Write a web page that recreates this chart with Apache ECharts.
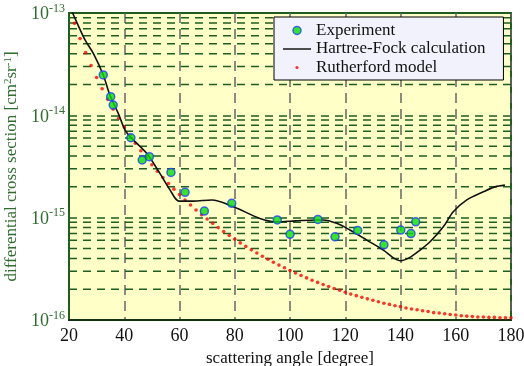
<!DOCTYPE html>
<html>
<head>
<meta charset="utf-8">
<script src="https://cdn.jsdelivr.net/npm/echarts@6/dist/echarts.min.js"></script>
<style>
html,body{margin:0;padding:0;background:#fff;}
#c{width:524px;height:366px;}
</style>
</head>
<body>
<div id="c"></div>
<script>
// ---- data ----
var expAngle = [32.4, 35.1, 36.0, 42.4, 46.5, 49.1, 56.9, 62.0, 69.0, 78.9, 95.4, 100.0, 110.1, 116.3, 124.5, 134.0, 140.1, 143.8, 145.5];
var expValue = [2.48e-14, 1.52e-14, 1.26e-14, 6.04e-15, 3.66e-15, 3.94e-15, 2.77e-15, 1.77e-15, 1.16e-15, 1.38e-15, 9.5e-16, 6.87e-16, 9.6e-16, 6.5e-16, 7.5e-16, 5.43e-16, 7.57e-16, 7.0e-16, 9.1e-16];

var hfAngle = [20.0, 21.3, 25.8, 28.8, 32.4, 34.8, 37.8, 40.3, 42.7, 48.1, 52.9, 56.6, 59.8, 65.0, 71.7, 79.5, 89.1, 95.2, 102.0, 109.7, 112.1, 116.9, 121.7, 127.8, 133.8, 137.4, 140.1, 143.4, 147.1, 150.7, 155.5, 159.1, 164.0, 170.0, 174.2, 177.8];
var hfValue = [1.2e-13, 1.0e-13, 5.45e-14, 4.03e-14, 2.48e-14, 1.58e-14, 1.05e-14, 7.18e-15, 5.96e-15, 4.25e-15, 2.71e-15, 1.86e-15, 1.45e-15, 1.45e-15, 1.49e-15, 1.28e-15, 9.84e-16, 9.1e-16, 9.3e-16, 9.5e-16, 9.5e-16, 8.8e-16, 7.57e-16, 6.04e-16, 4.82e-16, 4.05e-16, 3.79e-16, 4.09e-16, 4.82e-16, 5.81e-16, 8.15e-16, 1.14e-15, 1.49e-15, 1.79e-15, 2.0e-15, 2.08e-15];

var rutAngle = [22, 24, 26, 28, 30, 32, 34, 36, 38, 40, 42, 44, 46, 48, 50, 52, 54, 56, 58, 60, 62, 64, 66, 68, 70, 72, 74, 76, 78, 80, 82, 84, 86, 88, 90, 92, 94, 96, 98, 100, 102, 104, 106, 108, 110, 112, 114, 116, 118, 120, 122, 124, 126, 128, 130, 132, 134, 136, 138, 140, 142, 144, 146, 148, 150, 152, 154, 156, 158, 160, 162, 164, 166, 168, 170, 172, 174, 176, 178, 180];
var rutValue = [7.92e-14, 5.62e-14, 4.10e-14, 3.07e-14, 2.34e-14, 1.82e-14, 1.44e-14, 1.15e-14, 9.35e-15, 7.67e-15, 6.37e-15, 5.33e-15, 4.51e-15, 3.84e-15, 3.29e-15, 2.84e-15, 2.47e-15, 2.16e-15, 1.90e-15, 1.68e-15, 1.49e-15, 1.33e-15, 1.19e-15, 1.07e-15, 9.70e-16, 8.80e-16, 8.00e-16, 7.31e-16, 6.69e-16, 6.15e-16, 5.67e-16, 5.24e-16, 4.85e-16, 4.51e-16, 4.20e-16, 3.92e-16, 3.67e-16, 3.44e-16, 3.24e-16, 3.05e-16, 2.88e-16, 2.72e-16, 2.58e-16, 2.45e-16, 2.33e-16, 2.22e-16, 2.12e-16, 2.03e-16, 1.95e-16, 1.87e-16, 1.79e-16, 1.73e-16, 1.67e-16, 1.61e-16, 1.56e-16, 1.51e-16, 1.46e-16, 1.42e-16, 1.38e-16, 1.35e-16, 1.31e-16, 1.28e-16, 1.26e-16, 1.23e-16, 1.21e-16, 1.18e-16, 1.17e-16, 1.15e-16, 1.13e-16, 1.12e-16, 1.10e-16, 1.09e-16, 1.08e-16, 1.07e-16, 1.07e-16, 1.06e-16, 1.06e-16, 1.05e-16, 1.05e-16, 1.05e-16];

var xTicks = [20, 40, 60, 80, 100, 120, 140, 160, 180];
var yMinorLines = [2e-16, 3e-16, 4e-16, 5e-16, 6e-16, 7e-16, 8e-16, 9e-16,
                   2e-15, 3e-15, 4e-15, 5e-15, 6e-15, 7e-15, 8e-15, 9e-15,
                   2e-14, 3e-14, 4e-14, 5e-14, 6e-14, 7e-14, 8e-14, 9e-14];

function pairs(a, b) { return a.map(function (v, i) { return [v, b[i]]; }); }

var FONT = 'Liberation Serif';
var GREEN = '#2F6E2F';
var GRIDGREEN = '#1E5E1E';
var xMin = xTicks[0], xMax = xTicks[xTicks.length - 1];

// minor log grid lines, drawn as horizontal line series through the axes
var minorSeries = yMinorLines.map(function (v) {
  return {
    name: 'minor', type: 'line', silent: true, z: 1, symbol: 'none',
    data: [[xMin, v], [xMax, v]],
    lineStyle: {color: GRIDGREEN, type: [8, 6], width: 1.5},
    emphasis: {disabled: true}, tooltip: {show: false}
  };
});

var chart = echarts.init(document.getElementById('c'), null, {renderer: 'canvas'});
chart.setOption({
  animation: false,
  backgroundColor: '#ffffff',
  textStyle: {fontFamily: FONT},
  grid: {
    left: 69, right: 13, top: 13, bottom: 46,
    outerBoundsMode: 'none', containLabel: false,
    show: true, backgroundColor: '#FFFFC8',
    borderColor: GRIDGREEN, borderWidth: 2
  },
  xAxis: {
    type: 'value', min: xMin, max: xMax, interval: 20,
    name: 'scattering angle [degree]', nameLocation: 'middle', nameGap: 28,
    nameTextStyle: {fontFamily: FONT, fontSize: 17, color: '#111'},
    axisLine: {show: true, lineStyle: {color: '#113311', width: 2}},
    axisTick: {show: false},
    axisLabel: {fontFamily: FONT, fontSize: 18, color: '#111', margin: 7},
    splitLine: {show: true, lineStyle: {color: '#666', type: [10, 6], width: 1.5}}
  },
  yAxis: {
    type: 'log', logBase: 10, min: 1e-16, max: 1e-13,
    name: 'differential cross section [cm{s|2}sr{s|-1}]',
    nameLocation: 'middle', nameGap: 45,
    nameTextStyle: {fontFamily: FONT, fontSize: 17, color: GREEN,
      rich: {s: {fontFamily: FONT, fontSize: 11, color: GREEN, verticalAlign: 'top', padding: [0, 0, 6, 0]}}},
    axisLine: {show: true, lineStyle: {color: GRIDGREEN, width: 2}},
    axisTick: {show: false},
    axisLabel: {
      margin: 4,
      formatter: function (v) {
        var e = Math.round(Math.log(v) / Math.LN10);
        return '{b|10}{e|' + e + '}';
      },
      rich: {
        b: {fontFamily: FONT, fontSize: 18, color: GREEN, verticalAlign: 'bottom'},
        e: {fontFamily: FONT, fontSize: 12, color: GREEN, verticalAlign: 'top', padding: [0, 0, 9, 0]}
      }
    },
    splitLine: {show: true, lineStyle: {color: GRIDGREEN, type: [8, 6], width: 1.5}}
  },
  legend: {
    orient: 'vertical', left: 274, top: 17,
    padding: [5, 18, 4, 9],
    itemWidth: 28, itemHeight: 8, itemGap: 1.5,
    backgroundColor: '#F2F2FC', borderColor: '#000', borderWidth: 1,
    textStyle: {fontFamily: FONT, fontSize: 17, color: '#111'},
    itemTextGap: 11,
    data: [
      {name: 'Experiment', icon: 'circle', itemStyle: {color: '#00E000', borderColor: '#2040FF', borderWidth: 1.5}},
      {name: 'Hartree-Fock calculation', icon: 'path://M0,3.5h28v1.6h-28z', itemStyle: {color: '#222'}},
      {name: 'Rutherford model', icon: 'path://M0,0M28,8M12.4,4a1.6,1.6 0 1,0 3.2,0a1.6,1.6 0 1,0 -3.2,0z', itemStyle: {color: '#FF0000'}}
    ]
  },
  series: minorSeries.concat([
    {
      name: 'Rutherford model', type: 'scatter', z: 3,
      data: pairs(rutAngle, rutValue), symbolSize: 3.6,
      itemStyle: {color: '#FF0000'}
    },
    {
      name: 'Hartree-Fock calculation', type: 'line', z: 4,
      data: pairs(hfAngle, hfValue), smooth: 0.3, showSymbol: false, symbol: 'none',
      lineStyle: {color: '#111', width: 1.6}, itemStyle: {color: '#111'}
    },
    {
      name: 'Experiment', type: 'scatter', z: 5,
      data: pairs(expAngle, expValue), symbolSize: 8,
      itemStyle: {color: '#00E000', borderColor: '#2040FF', borderWidth: 1.5}
    }
  ])
});
</script>
</body>
</html>
